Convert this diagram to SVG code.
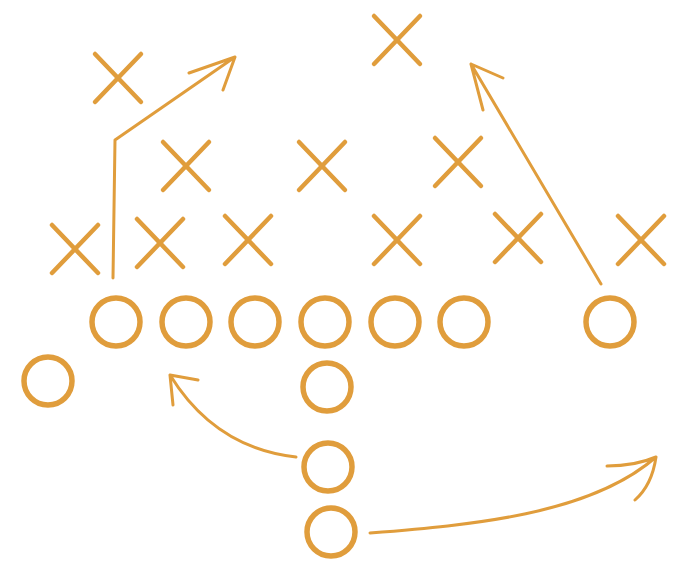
<svg xmlns="http://www.w3.org/2000/svg" width="700" height="575" viewBox="0 0 700 575">
<rect x="0" y="0" width="700" height="575" fill="#ffffff"/>
<g id="defense" fill="none" stroke="#E09D3C" stroke-width="4.5" stroke-linecap="round">
<g id="x1"><line x1="95" y1="54" x2="141" y2="102"/><line x1="141" y1="54" x2="95" y2="102"/></g>
<g id="x2"><line x1="374" y1="16" x2="420" y2="64"/><line x1="420" y1="16" x2="374" y2="64"/></g>
<g id="x3"><line x1="163" y1="142" x2="209" y2="190"/><line x1="209" y1="142" x2="163" y2="190"/></g>
<g id="x4"><line x1="299" y1="142" x2="345" y2="190"/><line x1="345" y1="142" x2="299" y2="190"/></g>
<g id="x5"><line x1="435" y1="138" x2="481" y2="186"/><line x1="481" y1="138" x2="435" y2="186"/></g>
<g id="x6"><line x1="52" y1="225" x2="98" y2="273"/><line x1="98" y1="225" x2="52" y2="273"/></g>
<g id="x7"><line x1="137" y1="219" x2="183" y2="267"/><line x1="183" y1="219" x2="137" y2="267"/></g>
<g id="x8"><line x1="225" y1="216" x2="271" y2="264"/><line x1="271" y1="216" x2="225" y2="264"/></g>
<g id="x9"><line x1="374" y1="216" x2="420" y2="264"/><line x1="420" y1="216" x2="374" y2="264"/></g>
<g id="x10"><line x1="495" y1="214" x2="541" y2="262"/><line x1="541" y1="214" x2="495" y2="262"/></g>
<g id="x11"><line x1="618" y1="216" x2="664" y2="264"/><line x1="664" y1="216" x2="618" y2="264"/></g>
</g>
<g id="offense" fill="none" stroke="#E09D3C" stroke-width="5.5">
<path id="o1" d="M92,322 a24,24 0 1,0 48,0 a24,24 0 1,0 -48,0 z"/>
<path id="o2" d="M162,322 a24,24 0 1,0 48,0 a24,24 0 1,0 -48,0 z"/>
<path id="o3" d="M231,322 a24,24 0 1,0 48,0 a24,24 0 1,0 -48,0 z"/>
<path id="o4" d="M301,322 a24,24 0 1,0 48,0 a24,24 0 1,0 -48,0 z"/>
<path id="o5" d="M371,322 a24,24 0 1,0 48,0 a24,24 0 1,0 -48,0 z"/>
<path id="o6" d="M440,322 a24,24 0 1,0 48,0 a24,24 0 1,0 -48,0 z"/>
<path id="o7" d="M586,322 a24,24 0 1,0 48,0 a24,24 0 1,0 -48,0 z"/>
<path id="o8" d="M24,381 a24,24 0 1,0 48,0 a24,24 0 1,0 -48,0 z"/>
<path id="o9" d="M303,387 a24,24 0 1,0 48,0 a24,24 0 1,0 -48,0 z"/>
<path id="o10" d="M304,467 a24,24 0 1,0 48,0 a24,24 0 1,0 -48,0 z"/>
<path id="o11" d="M307,532 a24,24 0 1,0 48,0 a24,24 0 1,0 -48,0 z"/>
</g>
<g id="connectors" fill="none" stroke="#E09D3C" stroke-width="3" stroke-linecap="round" stroke-linejoin="round">
<path d="M113,278 L115,140 L235,57 M189,73 L235,57 L223,90"/>
<path d="M601,284 L471,64 M503,78 L471,64 L483,110"/>
<path d="M296,457 Q215,448 170,375 M198,380 L170,375 L173,405"/>
<path d="M370,533 C470,525 590,515 656,457 M607,466 Q635,466 656,457 Q652,485 635,500"/>
</g>
</svg>
